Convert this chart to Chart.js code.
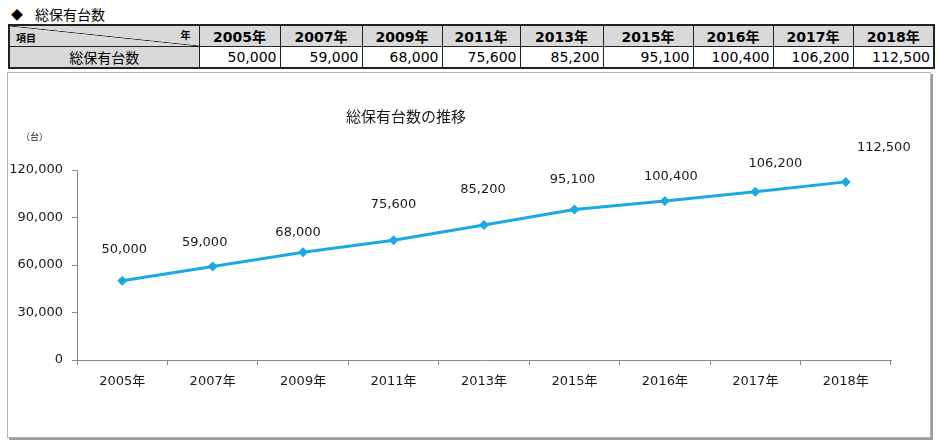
<!DOCTYPE html>
<html>
<head>
<meta charset="utf-8">
<script src="https://cdn.jsdelivr.net/npm/chart.js@4"></script>
<style>
  body { margin: 0; width: 940px; height: 446px; background: #fff; position: relative; overflow: hidden;
         font-family: "DejaVu Sans", "Noto Sans CJK JP", sans-serif; color: #000; }
  .heading { position: absolute; left: 11px; top: 4px; font-size: 14px; font-family: "Noto Sans CJK JP", sans-serif; }
  .heading span { display: inline-block; width: 24px; font-size: 12px; }
  table { position: absolute; left: 8px; top: 24px; border-collapse: collapse; table-layout: fixed;
          border: 2px solid #222; }
  td { border: 1px solid #222; padding: 0 3px; white-space: nowrap; overflow: hidden; }
  tr.head td { height: 20px; background: #d9d9d9; font-weight: bold; font-size: 14px; text-align: center; }
  tr.vals td { height: 18px; font-size: 14px; text-align: right; background: #fff; }
  tr.vals td.name { background: #d9d9d9; text-align: center; font-family: "Noto Sans CJK JP", sans-serif; }
  td.diag { position: relative; background: #d9d9d9 linear-gradient(to top right, transparent calc(50% - 0.7px), #222 50%, transparent calc(50% + 0.7px)) !important; }
  td.diag .a { position: absolute; left: 6px; bottom: 1px; font-size: 10px; font-family: "Noto Sans CJK JP", sans-serif; }
  td.diag .b { position: absolute; right: 8px; top: 1px; font-size: 10px; font-family: "Noto Sans CJK JP", sans-serif; }
  .frame { position: absolute; left: 7px; top: 72px; width: 922px; height: 364px; border: 1px solid #b4b4b4;
           box-shadow: 2px 2px 0 #9a9a9a; }
  .frame canvas { position: absolute; left: 0; top: 0; }
</style>
</head>
<body>
<div class="heading"><span>◆</span>総保有台数</div>
<table id="tbl">
  <colgroup id="cols"></colgroup>
  <tr class="head" id="headRow"><td class="diag"><span class="a">項目</span><span class="b">年</span></td></tr>
  <tr class="vals" id="valRow"><td class="name">総保有台数</td></tr>
</table>
<div class="frame">
  <canvas id="myChart" width="922" height="364"></canvas>
</div>
<script>
const years = ["2005年", "2007年", "2009年", "2011年", "2013年", "2015年", "2016年", "2017年", "2018年"];
const totals = [50000, 59000, 68000, 75600, 85200, 95100, 100400, 106200, 112500];
const yTicks = [0, 30000, 60000, 90000, 120000];
const chartTitle = "総保有台数の推移";
const unitLabel = "（台）";

// label nudges in px (dx, dy from the point)
const labelDx = [2, -8, -5, 0, -1, -2, 6, 20, 38];
const labelDy = [-31, -24, -20, -36, -35, -30, -24, -28, -34];

const colWidths = [190, 81, 82, 80, 78, 83, 90, 80, 80, 81];

// build the table
const cols = document.getElementById('cols');
colWidths.forEach(w => {
  const c = document.createElement('col');
  c.style.width = w + 'px';
  cols.appendChild(c);
});
document.getElementById('tbl').style.width = colWidths.reduce((a, b) => a + b, 0) + 'px';
const headRow = document.getElementById('headRow');
const valRow = document.getElementById('valRow');
years.forEach((y, i) => {
  const h = document.createElement('td');
  h.textContent = y;
  headRow.appendChild(h);
  const v = document.createElement('td');
  v.textContent = totals[i].toLocaleString('en-US');
  valRow.appendChild(v);
});

const numFont = '"DejaVu Sans", "Noto Sans CJK JP", sans-serif';
const lineColor = '#1aa9e2';

const extraText = {
  id: 'extraText',
  afterDatasetsDraw(chart) {
    const ctx = chart.ctx;
    const meta = chart.getDatasetMeta(0);
    ctx.save();
    ctx.fillStyle = '#1a1a1a';
    ctx.font = '13px ' + numFont;
    ctx.textAlign = 'center';
    ctx.textBaseline = 'middle';
    meta.data.forEach((pt, i) => {
      ctx.fillText(totals[i].toLocaleString('en-US'), pt.x + labelDx[i], pt.y + labelDy[i]);
    });
    ctx.font = '15px "Noto Sans CJK JP", sans-serif';
    ctx.fillText(chartTitle, 398, 43);
    ctx.font = '9px "Noto Sans CJK JP", sans-serif';
    ctx.textAlign = 'left';
    ctx.fillText(unitLabel, 13, 64);
    ctx.restore();
  }
};

new Chart(document.getElementById('myChart').getContext('2d'), {
  type: 'line',
  data: {
    labels: years,
    datasets: [{
      data: totals,
      borderColor: lineColor,
      backgroundColor: lineColor,
      borderWidth: 3,
      pointStyle: 'rectRot',
      pointRadius: 5,
      pointBorderWidth: 0,
      tension: 0,
      fill: false
    }]
  },
  options: {
    responsive: false,
    animation: false,
    layout: { padding: { top: 97, right: 39, bottom: 35, left: 0 } },
    plugins: {
      legend: { display: false },
      tooltip: { enabled: false }
    },
    scales: {
      x: {
        offset: true,
        grid: { display: true, drawOnChartArea: false, offset: true, tickLength: 5, color: '#8a8a8a' },
        border: { color: '#8a8a8a', width: 1 },
        ticks: { color: '#1a1a1a', font: { size: 13, family: numFont }, padding: 9, maxRotation: 0 },
        afterFit: s => { s.height = 42; }
      },
      y: {
        min: 0,
        max: 120000,
        afterBuildTicks: s => { s.ticks = yTicks.map(v => ({ value: v })); },
        grid: { display: true, drawOnChartArea: false, tickLength: 5, color: '#8a8a8a' },
        border: { color: '#8a8a8a', width: 1 },
        ticks: {
          color: '#1a1a1a',
          font: { size: 13, family: numFont },
          padding: 9,
          callback: v => v.toLocaleString('en-US')
        },
        afterFit: s => { s.width = 69; }
      }
    }
  },
  plugins: [extraText]
});
</script>
</body>
</html>
